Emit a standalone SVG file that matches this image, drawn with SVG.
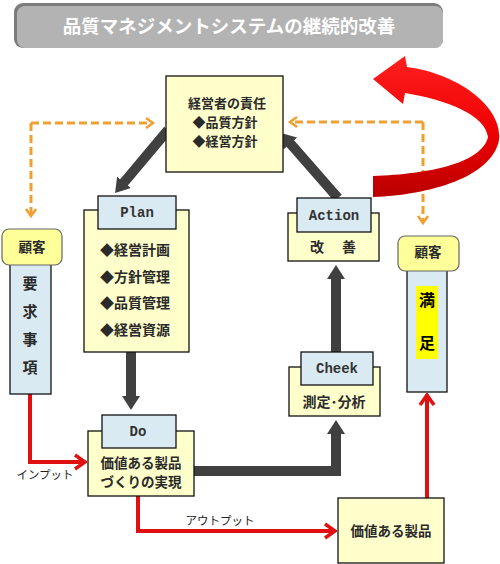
<svg xmlns="http://www.w3.org/2000/svg" width="500" height="564" viewBox="0 0 500 564">
<style>
.t{font-family:"Noto Sans CJK JP","Noto Sans",sans-serif;font-weight:bold;fill:#2a2a2a}
.m{font-family:"Liberation Mono","DejaVu Sans Mono",monospace;font-weight:bold;fill:#333;font-size:14px;text-anchor:middle}
.c{text-anchor:middle}
.body{fill:#ffffcc;stroke:#111;stroke-width:1.3}
.lab{fill:#daeaf2;stroke:#111;stroke-width:1.3}
.cust{fill:#ffff99;stroke:#666;stroke-width:1.2}
.col{fill:#daeaf2;stroke:#111;stroke-width:1.3}
.dk{fill:none;stroke:#404040;stroke-width:10;marker-end:url(#mdk)}
.rd{fill:none;stroke:#e01010;stroke-width:4;marker-end:url(#mrd)}
.or{fill:none;stroke:#f0a030;stroke-width:3;stroke-dasharray:8 4;marker-end:url(#mor)}
.lbl{font-family:"Noto Sans CJK JP","Noto Sans",sans-serif;fill:#222;font-size:11.5px;text-anchor:middle}
</style>
<defs>
<marker id="mdk" viewBox="0 0 14 18" markerUnits="userSpaceOnUse" markerWidth="14" markerHeight="18" refX="1" refY="9" orient="auto"><path d="M0,0 L14,9 L0,18 Z" fill="#404040"/></marker>
<marker id="mrd" viewBox="-2 -2 14 18" markerUnits="userSpaceOnUse" markerWidth="14" markerHeight="18" refX="10" refY="7" orient="auto"><path d="M0,0 L10,7 L0,14" fill="none" stroke="#e01010" stroke-width="3.5"/></marker>
<marker id="mor" viewBox="-2 -2 12 14" markerUnits="userSpaceOnUse" markerWidth="12" markerHeight="14" refX="7" refY="5" orient="auto"><path d="M0,0 L7,5 L0,10" fill="none" stroke="#f0a030" stroke-width="2.5"/></marker>
<linearGradient id="gr" gradientUnits="userSpaceOnUse" x1="0" y1="55" x2="0" y2="198">
<stop offset="0" stop-color="#ff2020"/><stop offset="0.55" stop-color="#ee0000"/><stop offset="1" stop-color="#b80000"/>
</linearGradient>
</defs>

<g id="title">
<rect x="14" y="3" width="429" height="45" rx="9" fill="#7c7c7c"/>
<rect x="17" y="6" width="426" height="42" rx="8" fill="#b3b3b3"/>
<text x="229" y="33" class="t c" style="fill:#fff;font-size:18.5px">品質マネジメントシステムの継続的改善</text>
</g>

<g id="connectors">
<path class="or" d="M31,123 H153"/>
<path class="or" d="M31,123 V216"/>
<path class="or" d="M423,122 H290"/>
<path class="or" d="M423,122 V223"/>
<path class="dk" d="M168,130 L123.4,183.1"/>
<path class="dk" d="M131,352 V397"/>
<path class="dk" d="M194,471 H336 V433" style="stroke-linejoin:miter"/>
<path class="dk" d="M336,352 V278"/>
<path class="dk" d="M338,198 L289.6,142.8"/>
<path class="rd" d="M30,394 V462 H85"/>
<path class="rd" d="M138,496 V531 H335"/>
<path class="rd" d="M427,498 V395"/>
<path d="M373,197 C430,195 492,177 499,140 C503,108 460,74 407,67 L405,56 L373,79 L403,104 L405,93 C448,100 485,115 488,137 C482,163 430,174 373,176 Z" fill="url(#gr)"/>
<text x="45" y="479" class="lbl">インプット</text>
<text x="220" y="525" class="lbl">アウトプット</text>
</g>

<g id="top">
<rect class="body" x="166" y="76" width="117" height="96"/>
<text x="227" y="108" class="t c" style="font-size:13px">経営者の責任</text>
<text x="225" y="127" class="t c" style="font-size:13px">◆品質方針</text>
<text x="225" y="146" class="t c" style="font-size:13px">◆経営方針</text>
</g>

<g id="plan">
<rect class="body" x="84" y="210" width="105" height="142"/>
<rect class="lab" x="98" y="196" width="78" height="33"/>
<text x="137" y="217" class="m">Plan</text>
<text x="100" y="255" class="t" style="font-size:14px">◆経営計画</text>
<text x="100" y="282" class="t" style="font-size:14px">◆方針管理</text>
<text x="100" y="308" class="t" style="font-size:14px">◆品質管理</text>
<text x="100" y="335" class="t" style="font-size:14px">◆経営資源</text>
</g>

<g id="do">
<rect class="body" x="88" y="431" width="106" height="65"/>
<rect class="lab" x="102" y="415" width="74" height="33"/>
<text x="138" y="436" class="m">Do</text>
<text x="141" y="468" class="t c" style="font-size:13.5px">価値ある製品</text>
<text x="141" y="487" class="t c" style="font-size:13.5px">づくりの実現</text>
</g>

<g id="check">
<rect class="body" x="289" y="367" width="91" height="49"/>
<rect class="lab" x="301" y="352" width="72" height="33"/>
<text x="337" y="373" class="m">Cheek</text>
<text x="334" y="407" class="t c" style="font-size:14px">測定･分析</text>
</g>

<g id="action">
<rect class="body" x="288" y="213" width="91" height="48"/>
<rect class="lab" x="297" y="198" width="74" height="34"/>
<text x="334" y="220" class="m">Action</text>
<text x="334" y="252" class="t c" style="font-size:14px;letter-spacing:2px">改　善</text>
</g>

<g id="product">
<rect class="body" x="338" y="498" width="106" height="65"/>
<text x="391" y="536" class="t c" style="font-size:13.5px">価値ある製品</text>
</g>

<g id="customer-left">
<rect class="col" x="10" y="264" width="41" height="130"/>
<rect class="cust" x="2" y="229" width="60" height="36" rx="7"/>
<text x="32" y="252" class="t c" style="font-size:13.5px">顧客</text>
<text x="30" y="289" class="t c" style="font-size:15px">要</text>
<text x="30" y="317" class="t c" style="font-size:15px">求</text>
<text x="30" y="345" class="t c" style="font-size:15px">事</text>
<text x="30" y="373" class="t c" style="font-size:15px">項</text>
</g>

<g id="customer-right">
<rect class="col" x="407" y="270" width="40" height="122"/>
<rect x="416" y="286" width="22" height="73" fill="#ffff00"/>
<rect class="cust" x="398" y="236" width="61" height="35" rx="7"/>
<text x="428" y="257" class="t c" style="font-size:13.5px">顧客</text>
<text x="427" y="306" class="t c" style="font-size:16px;fill:#000">満</text>
<text x="427" y="349" class="t c" style="font-size:16px;fill:#000">足</text>
</g>
</svg>
